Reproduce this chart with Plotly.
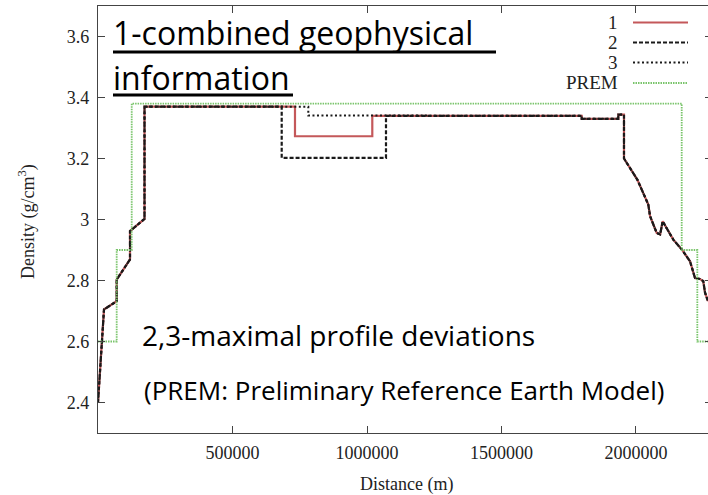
import plotly.graph_objects as go

# ---- density profiles along the traverse: distance (m), density (g/cm^3) ----
# western flank, common to profiles 1-3
west_x = [0, 22300, 69500, 69500, 119000, 119000, 172900, 172900]
west_rho = [2.40, 2.705, 2.732, 2.803, 2.869, 2.962, 3.002, 3.37]

# central block where the three profiles differ
p1_mid_x = [732300, 732300, 1019700, 1019700]
p1_mid_rho = [3.37, 3.273, 3.273, 3.34]
p2_mid_x = [682900, 682900, 1070600, 1070600]
p2_mid_rho = [3.37, 3.202, 3.202, 3.34]
p3_mid_x = [781800, 781800]
p3_mid_rho = [3.37, 3.341]

# eastern flank, common to profiles 1-3
east_x = [1798200, 1798200, 1934200, 1934200, 1955400, 1955400, 2004900,
          2045800, 2052300, 2077000, 2089700, 2099300, 2138700, 2170000,
          2200800, 2219400, 2238000, 2250000, 2256700, 2267700]
east_rho = [3.34, 3.33, 3.33, 3.344, 3.344, 3.20, 3.131,
            3.049, 3.011, 2.956, 2.951, 2.994, 2.934, 2.902,
            2.863, 2.808, 2.805, 2.798, 2.760, 2.732]

# Preliminary Reference Earth Model
prem_x = [0, 69500, 69500, 125300, 125300, 2170000, 2170000, 2228000, 2228000, 2267700]
prem_rho = [2.60, 2.60, 2.90, 2.90, 3.38, 3.38, 2.90, 2.90, 2.60, 2.60]

x_ticks = [500000, 1000000, 1500000, 2000000]
x_tick_text = ["500000", "1000000", "1500000", "2000000"]
y_ticks = [2.4, 2.6, 2.8, 3.0, 3.2, 3.4, 3.6]
y_tick_text = ["2.4", "2.6", "2.8", "3", "3.2", "3.4", "3.6"]

legend_names = ["1", "2", "3", "PREM"]

# ---- styling ----
W, H = 708, 495
L, R, T, B = 98, 0, 6, 62
PW, PH = W - L - R, H - T - B

RED = "#c4585a"
BLACK = "#1a1a1a"
GREEN = "#79c46a"
SERIF = "Liberation Serif"
SANS = "Open Sans"


def px(xp):
    return (xp - L) / PW


def py(yp):
    return (T + PH - yp) / PH


styles = [
    dict(color=RED, width=2.2, dash="solid"),
    dict(color=BLACK, width=2.2, dash="4px,2px"),
    dict(color=BLACK, width=2.0, dash="2px,2.5px"),
    dict(color=GREEN, width=1.8, dash="1.5px,1px"),
]

series = [
    (west_x + p1_mid_x + east_x, west_rho + p1_mid_rho + east_rho),
    (west_x + p2_mid_x + east_x, west_rho + p2_mid_rho + east_rho),
    (west_x + p3_mid_x + east_x, west_rho + p3_mid_rho + east_rho),
    (prem_x, prem_rho),
]

fig = go.Figure()
for (xs, ys), st, name in zip(series, styles, legend_names):
    fig.add_trace(go.Scatter(x=xs, y=ys, mode="lines", name=name,
                             line=st, showlegend=False, hoverinfo="skip"))

# invisible trace carrying the right-hand mirror ticks
fig.add_trace(go.Scatter(x=[0], y=[3.0], yaxis="y2", mode="lines",
                         line=dict(width=0), showlegend=False, hoverinfo="skip"))

axis_font = dict(family=SERIF, size=18, color="#222222")
fig.update_layout(
    width=W, height=H,
    margin=dict(l=L, r=R, t=T, b=B),
    paper_bgcolor="white", plot_bgcolor="white",
    xaxis=dict(range=[0, 2267700], tickvals=x_ticks, ticktext=x_tick_text,
               ticks="inside", ticklen=7, tickcolor="#444", tickwidth=1,
               showline=True, linecolor="#444", linewidth=1.3, mirror="ticks",
               showgrid=False, zeroline=False, tickfont=axis_font,
               ticklabelstandoff=3),
    yaxis=dict(range=[2.30, 3.70], tickvals=y_ticks, ticktext=y_tick_text,
               ticks="inside", ticklen=7, tickcolor="#444", tickwidth=1,
               showline=True, linecolor="#444", linewidth=1.3,
               showgrid=False, zeroline=False, tickfont=axis_font,
               ticklabelstandoff=4),
    yaxis2=dict(range=[2.30, 3.70], tickvals=y_ticks, overlaying="y", side="right",
                ticks="inside", ticklen=3, tickcolor="#444", showline=False,
                showticklabels=False, showgrid=False, zeroline=False),
)

annotations = []
shapes = []

# legend: right-aligned labels with line samples to their right
legend_rows = [22.5, 42.5, 62.5, 83.0]
for name, st, yrow in zip(legend_names, styles, legend_rows):
    annotations.append(dict(x=px(620), y=py(yrow), xref="paper", yref="paper",
                            text=name, showarrow=False, xanchor="right", yanchor="middle",
                            font=dict(family=SERIF, size=19, color="#222222")))
    shapes.append(dict(type="line", xref="paper", yref="paper",
                       x0=px(633), x1=px(688), y0=py(yrow), y1=py(yrow),
                       line=dict(color=st["color"], width=st["width"], dash=st["dash"])))

# axis titles
annotations.append(dict(x=px(406), y=py(485), xref="paper", yref="paper",
                        text="Distance (m)", showarrow=False, xanchor="center", yanchor="middle",
                        font=dict(family=SERIF, size=18, color="#222222")))
annotations.append(dict(x=px(27), y=py(222), xref="paper", yref="paper",
                        text="Density (g/cm<sup>3</sup>)", textangle=-90, showarrow=False,
                        xanchor="center", yanchor="middle",
                        font=dict(family=SERIF, size=18, color="#222222")))

# slide captions
captions = [
    ("1-combined geophysical", 111, 33, 32),
    ("information", 111, 78, 32),
    ("2,3-maximal profile deviations", 140, 335, 28),
    ("(PREM: Preliminary Reference Earth Model)", 142, 390, 26),
]
for text, x0, yc, size in captions:
    annotations.append(dict(x=px(x0), y=py(yc), xref="paper", yref="paper",
                            text=text, showarrow=False, xanchor="left", yanchor="middle",
                            font=dict(family=SANS, size=size, color="black")))

# caption underlines
for x0, x1, yl in [(113, 496, 52), (113, 293, 95)]:
    shapes.append(dict(type="line", xref="paper", yref="paper",
                       x0=px(x0), x1=px(x1), y0=py(yl), y1=py(yl),
                       line=dict(color="black", width=3)))

fig.update_layout(annotations=annotations, shapes=shapes)
fig.write_html("out.html")
